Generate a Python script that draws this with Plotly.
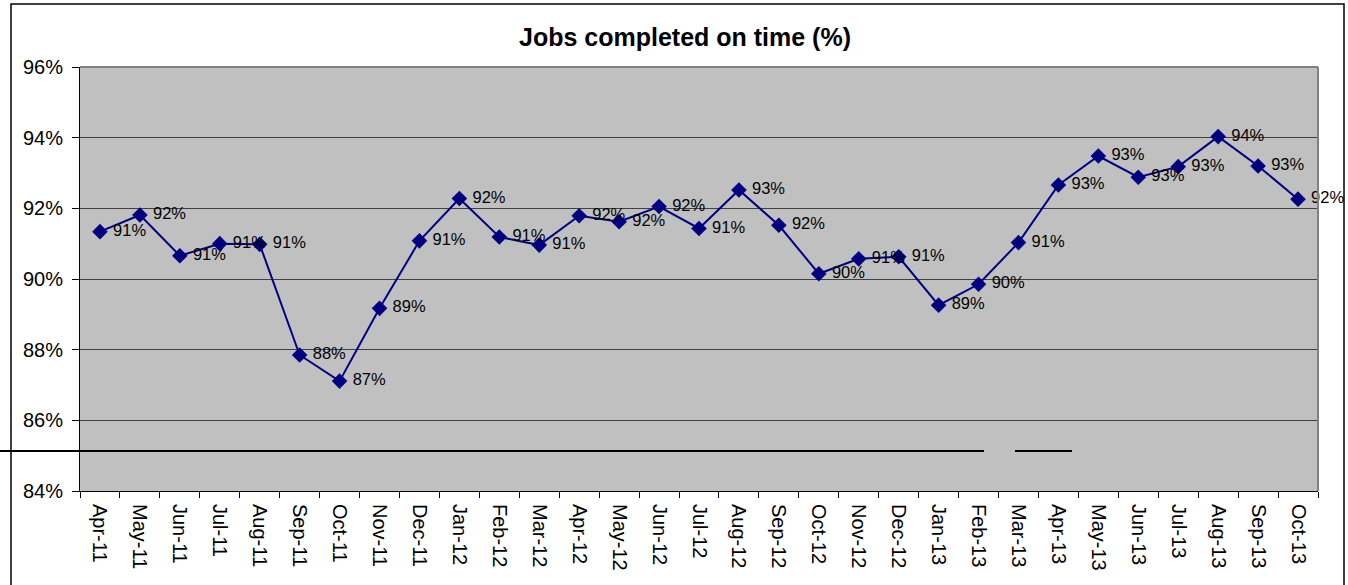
import plotly.graph_objects as go

months = ["Apr-11", "May-11", "Jun-11", "Jul-11", "Aug-11", "Sep-11", "Oct-11", "Nov-11",
          "Dec-11", "Jan-12", "Feb-12", "Mar-12", "Apr-12", "May-12", "Jun-12", "Jul-12",
          "Aug-12", "Sep-12", "Oct-12", "Nov-12", "Dec-12", "Jan-13", "Feb-13", "Mar-13",
          "Apr-13", "May-13", "Jun-13", "Jul-13", "Aug-13", "Sep-13", "Oct-13"]
on_time = [0.9134, 0.9181, 0.9066, 0.9100, 0.9098, 0.8785, 0.8711, 0.8917,
           0.9108, 0.9228, 0.9119, 0.9096, 0.9179, 0.9162, 0.9205, 0.9143,
           0.9252, 0.9152, 0.9015, 0.9057, 0.9063, 0.8926, 0.8985, 0.9103,
           0.9266, 0.9348, 0.9288, 0.9318, 0.9403, 0.9320, 0.9226]
y_ticks = [0.84, 0.86, 0.88, 0.90, 0.92, 0.94, 0.96]

FONT = "Liberation Sans, Arial, sans-serif"
W, H = 1348, 585
L, R, T, B = 80, 30, 67, 94
pw, ph = W - L - R, H - T - B

def px_x(p):
    return (p - L) / pw

def px_y(p):
    return (H - B - p) / ph

fig = go.Figure()
fig.add_trace(go.Scatter(
    x=months, y=on_time, mode="lines+markers+text",
    line=dict(color="#000080", width=2),
    marker=dict(symbol="diamond", size=12, color="#000080"),
    texttemplate=" %{y:.0%}", textposition="middle right",
    textfont=dict(family=FONT, size=16.5, color="#000000"),
    cliponaxis=False, showlegend=False,
))

shapes = [
    dict(type="rect", xref="paper", yref="paper",
         x0=px_x(11), x1=px_x(1344), y0=px_y(600), y1=px_y(4),
         line=dict(color="#000000", width=1.5), fillcolor="rgba(0,0,0,0)", layer="below"),
    dict(type="line", xref="paper", yref="paper", x0=0, x1=1, y0=1, y1=1,
         line=dict(color="#808080", width=2)),
    dict(type="line", xref="paper", yref="paper", x0=1, x1=1, y0=0, y1=1,
         line=dict(color="#808080", width=2)),
    dict(type="line", xref="paper", yref="paper", x0=px_x(0), x1=px_x(984),
         y0=px_y(451), y1=px_y(451), line=dict(color="#000000", width=2)),
    dict(type="line", xref="paper", yref="paper", x0=px_x(1015), x1=px_x(1072),
         y0=px_y(451), y1=px_y(451), line=dict(color="#000000", width=2)),
]

fig.update_layout(
    width=W, height=H,
    margin=dict(l=L, r=R, t=T, b=B, autoexpand=False),
    paper_bgcolor="#FFFFFF", plot_bgcolor="#C0C0C0",
    font=dict(family=FONT, color="#000000"),
    title=dict(text="<b>Jobs completed on time (%)</b>", x=685 / W,
               xanchor="center", y=1 - 37 / H, yanchor="middle",
               font=dict(family=FONT, size=25, color="#000000")),
    shapes=shapes,
    xaxis=dict(
        type="category", tickangle=90, tickson="boundaries",
        ticks="outside", ticklen=6, tickcolor="#000000", tickwidth=1,
        showline=True, linecolor="#000000", linewidth=1,
        showgrid=False, tickfont=dict(family=FONT, size=20, color="#000000"),
        ticklabelstandoff=8,
        range=[-0.5, len(months) - 0.5],
    ),
    yaxis=dict(
        range=[0.84, 0.96], tickvals=y_ticks, tickformat=".0%",
        ticks="outside", ticklen=7, tickcolor="#000000", tickwidth=1,
        showline=True, linecolor="#000000", linewidth=1,
        showgrid=True, gridcolor="#404040", gridwidth=1, zeroline=False,
        tickfont=dict(family=FONT, size=20, color="#000000"),
        ticklabelstandoff=5,
    ),
)

fig.write_html("out.html")
